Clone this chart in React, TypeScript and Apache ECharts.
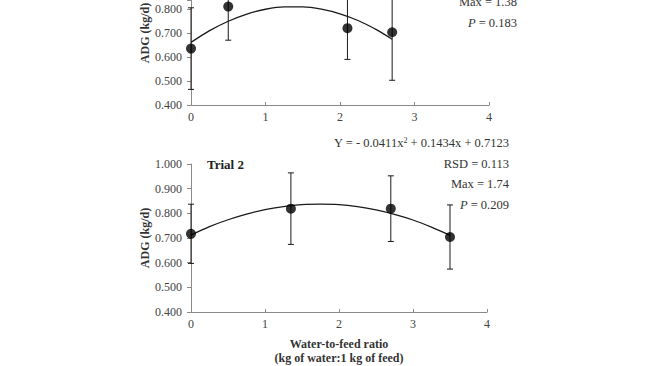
import React, { useEffect, useRef } from "react";
import * as echarts from "echarts";

// Trial 1 (top panel, its upper part is cropped in the figure)
const trial1X = [0, 0.5, 2.1, 2.7];
const trial1Y = [0.635, 0.81, 0.72, 0.703];
const trial1Err = [0.17, 0.14, 0.13, 0.2];
const trial1CurveX = [0, 0.25, 0.5, 0.75, 1.0, 1.25, 1.5, 1.75, 2.0, 2.25, 2.5, 2.7];
const trial1CurveY = [0.661, 0.71, 0.749, 0.779, 0.799, 0.809, 0.809, 0.7995, 0.78, 0.751, 0.712, 0.674];

// Trial 2 (bottom panel)
const trial2X = [0, 1.35, 2.7, 3.5];
const trial2Y = [0.717, 0.819, 0.819, 0.704];
const trial2Err = [0.12, 0.145, 0.133, 0.13];
const trial2CurveX = [0, 0.25, 0.5, 0.75, 1.0, 1.25, 1.5, 1.75, 2.0, 2.25, 2.5, 2.75, 3.0, 3.25, 3.5];
const trial2CurveY = [0.712, 0.746, 0.774, 0.797, 0.815, 0.827, 0.835, 0.837, 0.835, 0.827, 0.814, 0.796, 0.773, 0.744, 0.711];

const trial1Notes = ["Max = 1.38", "{i|P} = 0.183"];
const trial2Notes = [
  "Y = - 0.0411x{sup|2} + 0.1434x + 0.7123",
  "RSD = 0.113",
  "Max = 1.74",
  "{i|P} = 0.209",
];

const FONT = "'Liberation Serif', 'DejaVu Serif', serif";
const INK = "#1a1a1a";

export default function App() {
  const ref = useRef<HTMLDivElement>(null);
  useEffect(() => {
    document.body.style.margin = "0";
    if (!ref.current) return;
    const chart = echarts.init(ref.current, undefined, { renderer: "svg" });

    const errRender = (params: any, api: any) => {
      const x = api.value(0);
      const y = api.value(1);
      const e = api.value(2);
      const t = api.coord([x, y + e]);
      const b = api.coord([x, y - e]);
      const w = 3;
      const style = { stroke: INK, lineWidth: 1 };
      return {
        type: "group",
        children: [
          { type: "line", shape: { x1: t[0], y1: t[1], x2: b[0], y2: b[1] }, style },
          { type: "line", shape: { x1: t[0] - w, y1: t[1], x2: t[0] + w, y2: t[1] }, style },
          { type: "line", shape: { x1: b[0] - w, y1: b[1], x2: b[0] + w, y2: b[1] }, style },
        ],
      };
    };

    const xAxisBase = (gi: number, withName: boolean) => ({
      type: "value",
      gridIndex: gi,
      min: 0,
      max: 4,
      interval: 1,
      axisLine: { show: true, lineStyle: { color: "#8a8a8a", width: 1 } },
      axisTick: { show: true, inside: true, length: 3, lineStyle: { color: "#8a8a8a" } },
      axisLabel: { color: "#444", fontFamily: FONT, fontSize: 12, margin: 6 },
      splitLine: { show: false },
      name: withName ? "Water-to-feed ratio\n(kg of water:1 kg of feed)" : "",
      nameLocation: "middle",
      nameGap: 25,
      nameTextStyle: {
        color: "#333",
        fontFamily: FONT,
        fontSize: 12,
        fontWeight: "bold",
        lineHeight: 14,
        verticalAlign: "top",
      },
    });
    const yAxisBase = (gi: number, max: number, name: string) => ({
      type: "value",
      gridIndex: gi,
      min: 0.4,
      max,
      interval: 0.1,
      axisLine: { show: true, lineStyle: { color: "#8a8a8a", width: 1 } },
      axisTick: { show: true, length: 4, lineStyle: { color: "#8a8a8a" } },
      axisLabel: {
        color: "#444",
        fontFamily: FONT,
        fontSize: 12,
        margin: 9,
        formatter: (v: number) =>
          Math.abs(v * 10 - Math.round(v * 10)) < 1e-6 ? v.toFixed(3) : "",
      },
      splitLine: { show: false },
      name,
      nameLocation: "middle",
      nameGap: 40,
      nameTextStyle: { color: "#333", fontFamily: FONT, fontSize: 12, fontWeight: "bold" },
    });

    const noteText = (lines: string[], right: number, top: number, step: number) =>
      lines.map((s, i) => ({
        type: "text",
        x: right,
        y: top + i * step,
        style: {
          text: s,
          align: "right",
          verticalAlign: "middle",
          fill: "#333",
          font: `12.5px ${FONT}`,
          rich: {
            i: { fontStyle: "italic", fontFamily: FONT, fontSize: 12.5, fill: "#333" },
            sup: { fontFamily: FONT, fontSize: 8, fill: "#333", verticalAlign: "top", padding: [0, 0, 6, 0] },
          },
        },
      }));

    const option: any = {
      animation: false,
      backgroundColor: "#ffffff",
      grid: [
        { left: 191, right: 161, top: 0, height: 105 },
        { left: 191, right: 163, top: 164, height: 149 },
      ],
      xAxis: [xAxisBase(0, false), xAxisBase(1, true)],
      yAxis: [yAxisBase(0, 0.8375, ""), yAxisBase(1, 1.0, "ADG (kg/d)")],
      series: [
        {
          type: "line",
          xAxisIndex: 0,
          yAxisIndex: 0,
          data: trial1CurveX.map((x, i) => [x, trial1CurveY[i]]),
          smooth: 0.3,
          showSymbol: false,
          lineStyle: { color: INK, width: 1.3 },
          z: 2,
        },
        {
          type: "custom",
          xAxisIndex: 0,
          yAxisIndex: 0,
          data: trial1X.map((x, i) => [x, trial1Y[i], trial1Err[i]]),
          renderItem: errRender,
          clip: false,
          z: 3,
        },
        {
          type: "scatter",
          xAxisIndex: 0,
          yAxisIndex: 0,
          data: trial1X.map((x, i) => [x, trial1Y[i]]),
          symbolSize: 10,
          itemStyle: { color: "#000" },
          z: 4,
        },
        {
          type: "line",
          xAxisIndex: 1,
          yAxisIndex: 1,
          data: trial2CurveX.map((x, i) => [x, trial2CurveY[i]]),
          smooth: 0.3,
          showSymbol: false,
          lineStyle: { color: INK, width: 1.3 },
          z: 2,
        },
        {
          type: "custom",
          xAxisIndex: 1,
          yAxisIndex: 1,
          data: trial2X.map((x, i) => [x, trial2Y[i], trial2Err[i]]),
          renderItem: errRender,
          clip: false,
          z: 3,
        },
        {
          type: "scatter",
          xAxisIndex: 1,
          yAxisIndex: 1,
          data: trial2X.map((x, i) => [x, trial2Y[i]]),
          symbolSize: 10,
          itemStyle: { color: "#000" },
          z: 4,
        },
      ],
      graphic: [
        ...noteText(trial1Notes, 517, 2, 21),
        ...noteText(trial2Notes, 509, 143, 20.7),
        {
          type: "text",
          x: 145,
          y: 33,
          rotation: Math.PI / 2,
          style: {
            text: "ADG (kg/d)",
            align: "center",
            verticalAlign: "middle",
            fill: "#333",
            font: `bold 12px ${FONT}`,
          },
        },
        {
          type: "text",
          x: 207,
          y: 164,
          style: {
            text: "Trial 2",
            verticalAlign: "middle",
            fill: "#222",
            font: `bold 13px ${FONT}`,
          },
        },
      ],
    };
    chart.setOption(option);
    return () => chart.dispose();
  }, []);
  return <div ref={ref} style={{ width: 650, height: 366 }} />;
}
